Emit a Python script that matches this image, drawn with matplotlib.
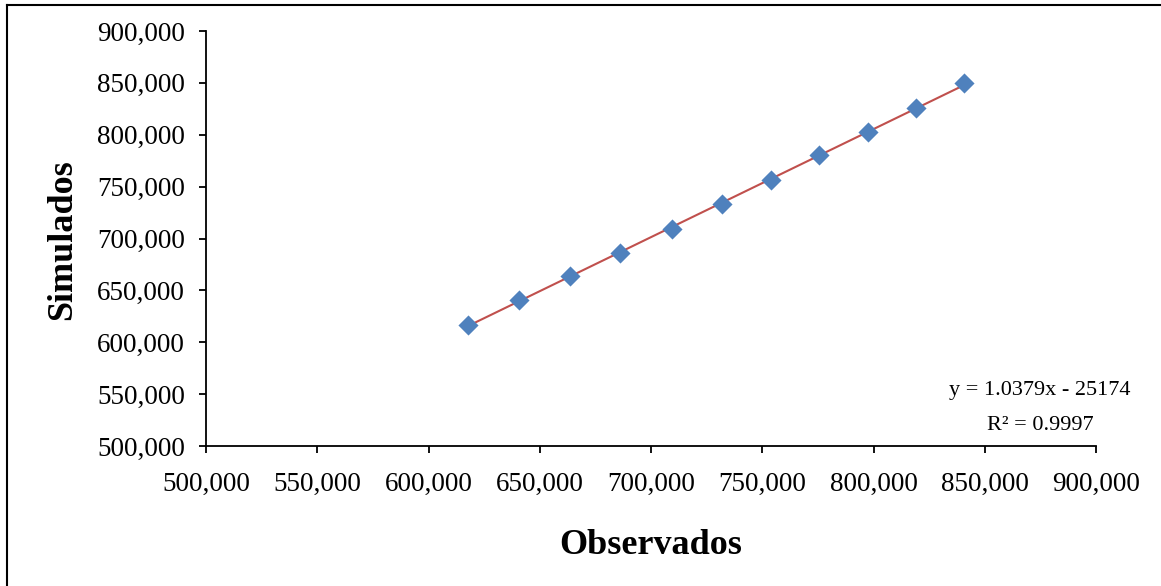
import matplotlib.pyplot as plt
import numpy as np
from matplotlib.lines import Line2D
from matplotlib.ticker import FuncFormatter

# observed vs simulated values
observados = [617600, 640500, 663500, 686200, 709300, 732000, 754100, 775700, 797400, 819100, 840800]
simulados = [616900, 640400, 663600, 686300, 709400, 733000, 756100, 780500, 802600, 826100, 849600]
ticks = [500000, 550000, 600000, 650000, 700000, 750000, 800000, 850000, 900000]
ecuacion = "y = 1.0379x - 25174"
r2 = "R² = 0.9997"

plt.rcParams['font.family'] = ['Liberation Serif', 'DejaVu Serif']

W, H = 1161, 586
fig = plt.figure(figsize=(W / 100, H / 100), dpi=100)
ax = fig.add_axes([206 / W, 1 - 446 / H, (1096 - 206) / W, (446 - 31) / H])

x = np.array(observados)
y = np.array(simulados)
m, b = np.polyfit(x, y, 1)
xl = np.array([x.min(), x.max()])
ax.plot(xl, m * xl + b, color='#c0504d', lw=1.5, zorder=2)
ax.scatter(x, y, marker='D', s=105, color='#4f81bd', zorder=3, linewidths=0)

ax.set_xlim(500000, 900000)
ax.set_ylim(500000, 900000)
ax.set_xticks(ticks)
ax.set_yticks(ticks)
fmt = FuncFormatter(lambda v, p: f"{int(v):,}")
ax.xaxis.set_major_formatter(fmt)
ax.yaxis.set_major_formatter(fmt)
ax.spines['top'].set_visible(False)
ax.spines['right'].set_visible(False)
for s in ['left', 'bottom']:
    ax.spines[s].set_linewidth(1.3)
ax.tick_params(axis='both', direction='out', length=5, width=1.3, labelsize=19.5)
ax.tick_params(axis='y', pad=10)
ax.tick_params(axis='x', pad=14)

ax.text(874800, 549200, ecuacion, ha='center', va='baseline', fontsize=16)
ax.text(874800, 515400, r2, ha='center', va='baseline', fontsize=16)

fig.text(651 / W, 1 - 545 / H, "Observados", ha='center', va='center',
         fontsize=26, fontweight='bold')
fig.text(63 / W, 1 - 240 / H, "Simulados", ha='center', va='center',
         fontsize=26, fontweight='bold', rotation=90)

# border (top and left only visible)
fig.add_artist(Line2D([7 / W, 1], [1 - 5 / H, 1 - 5 / H], color='black', lw=1.5, transform=fig.transFigure))
fig.add_artist(Line2D([7 / W, 7 / W], [0, 1 - 5 / H], color='black', lw=1.5, transform=fig.transFigure))

fig.savefig('out.png', dpi=100)
